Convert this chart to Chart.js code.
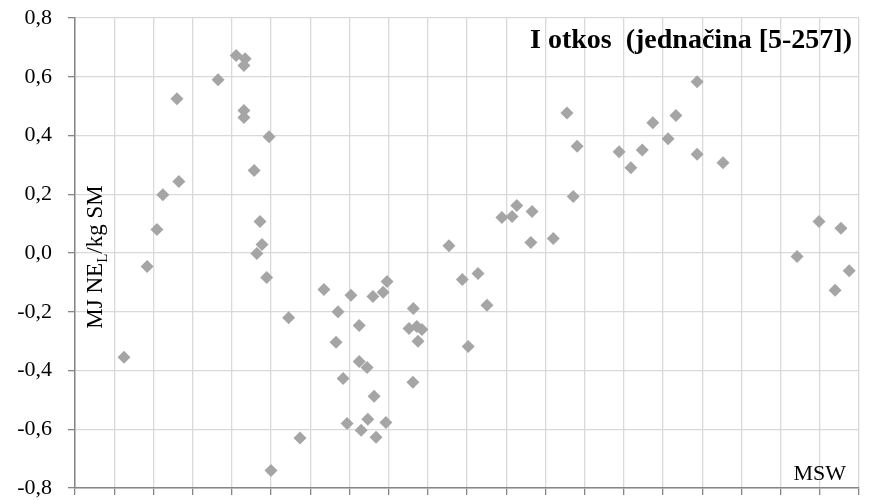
<!DOCTYPE html>
<html lang="sr">
<head>
    <meta charset="UTF-8">
    <title>I otkos</title>
    <script src="https://cdn.jsdelivr.net/npm/chart.js"></script>
    <style>
        body {
            margin: 0;
            background: #fff;
        }
        #wrap {
            width: 874px;
            height: 500px;
        }
    </style>
</head>
<body>
    <div id="wrap">
        <canvas id="otkosChart" width="874" height="500"></canvas>
    </div>
    <script>
        // MSW (x) i razlika energije (y) za I otkos
        const mswValues = [
            1.25, 1.84, 2.09, 2.24, 2.60, 2.65, 3.65, 4.11, 4.34, 4.31,
            4.31, 4.31, 4.57, 4.64, 4.72, 4.77, 4.89, 4.95, 5.00, 5.45,
            5.74, 6.35, 6.66, 6.71, 6.84, 6.94, 7.04, 7.25, 7.25, 7.30,
            7.45, 7.47, 7.60, 7.63, 7.68, 7.86, 7.93, 7.96, 8.52, 8.62,
            8.63, 8.72, 8.75, 8.85, 9.54, 9.88, 10.03, 10.28, 10.51, 10.89,
            11.15, 11.27, 11.63, 11.66, 12.20, 12.55, 12.71, 12.81, 13.88, 14.18,
            14.47, 14.74, 15.13, 15.33, 15.87, 15.87, 16.53, 18.42, 18.98, 19.39,
            19.54, 19.75
        ];
        const neValues = [
            -0.355, -0.046, 0.080, 0.198, 0.525, 0.243, 0.590, 0.672, 0.661, 0.638,
            0.485, 0.461, 0.281, -0.002, 0.107, 0.029, -0.083, 0.396, -0.740, -0.220,
            -0.630, -0.124, -0.304, -0.200, -0.427, -0.580, -0.144, -0.247, -0.369, -0.603,
            -0.390, -0.566, -0.148, -0.488, -0.627, -0.134, -0.577, -0.097, -0.257, -0.440,
            -0.189, -0.250, -0.300, -0.260, 0.025, -0.090, -0.318, -0.070, -0.178, 0.121,
            0.124, 0.162, 0.036, 0.141, 0.049, 0.477, 0.192, 0.363, 0.345, 0.290,
            0.351, 0.443, 0.389, 0.468, 0.583, 0.336, 0.307, -0.012, 0.107, -0.127,
            0.084, -0.060
        ];
        const yTicks = [-0.8, -0.6, -0.4, -0.2, 0.0, 0.2, 0.4, 0.6, 0.8];

        const points = mswValues.map((x, i) => ({ x: x, y: neValues[i] }));

        const serif = '"Liberation Serif", "Times New Roman", serif';

        // natpisi: naslov, oznaka y ose i MSW
        const labelsPlugin = {
            id: 'labels',
            afterDraw(chart) {
                const ctx = chart.ctx;
                const area = chart.chartArea;
                ctx.save();
                ctx.fillStyle = '#000';

                ctx.font = 'bold 28px ' + serif;
                ctx.textAlign = 'right';
                ctx.textBaseline = 'alphabetic';
                ctx.fillText('I otkos  (jednačina [5-257])', area.right - 7, 48);

                ctx.font = '22px ' + serif;
                ctx.fillText('MSW', area.right - 13, 480);

                // y osa: MJ NE_L/kg SM, rotirano
                const big = '23px ' + serif;
                const small = '15px ' + serif;
                ctx.font = big;
                const w1 = ctx.measureText('MJ NE').width;
                const w3 = ctx.measureText('/kg SM').width;
                ctx.font = small;
                const w2 = ctx.measureText('L').width;
                const total = w1 + w2 + w3;
                ctx.translate(area.left + 27, 257);
                ctx.rotate(-Math.PI / 2);
                ctx.textAlign = 'left';
                let pos = -total / 2;
                ctx.font = big;
                ctx.fillText('MJ NE', pos, 0);
                pos += w1;
                ctx.font = small;
                ctx.fillText('L', pos, 5);
                pos += w2;
                ctx.font = big;
                ctx.fillText('/kg SM', pos, 0);
                ctx.restore();
            }
        };

        function noOverflow(scale) {
            scale.paddingTop = 0;
            scale.paddingBottom = 0;
            scale.paddingLeft = 0;
            scale.paddingRight = 0;
        }

        new Chart(document.getElementById('otkosChart'), {
            type: 'scatter',
            data: {
                datasets: [{
                    data: points,
                    pointStyle: 'rectRot',
                    pointRadius: 6.5,
                    pointHoverRadius: 6.5,
                    backgroundColor: '#A5A5A5',
                    borderColor: '#A5A5A5',
                    borderWidth: 0
                }]
            },
            options: {
                responsive: false,
                animation: false,
                layout: {
                    padding: { top: 18, right: 15, bottom: 0, left: 0 }
                },
                plugins: {
                    legend: { display: false },
                    tooltip: { enabled: false }
                },
                scales: {
                    x: {
                        type: 'linear',
                        min: 0,
                        max: 20,
                        afterFit(scale) {
                            scale.height = 12;
                            noOverflow(scale);
                        },
                        ticks: { display: false, stepSize: 1 },
                        grid: {
                            color: '#D9D9D9',
                            lineWidth: 1.3,
                            tickColor: '#868686',
                            tickLength: 7
                        },
                        border: { color: '#868686', width: 1.5 }
                    },
                    y: {
                        min: -0.8,
                        max: 0.8,
                        afterFit(scale) {
                            scale.width = 75;
                            noOverflow(scale);
                        },
                        afterBuildTicks(scale) {
                            scale.ticks = yTicks.map(v => ({ value: v }));
                        },
                        ticks: {
                            padding: 16,
                            color: '#000',
                            font: { family: serif, size: 22 },
                            callback: v => v.toFixed(1).replace('.', ',')
                        },
                        grid: {
                            color: '#D9D9D9',
                            lineWidth: 1.3,
                            tickColor: '#868686',
                            tickLength: 7
                        },
                        border: { color: '#868686', width: 1.5 }
                    }
                }
            },
            plugins: [labelsPlugin]
        });
    </script>
</body>
</html>
